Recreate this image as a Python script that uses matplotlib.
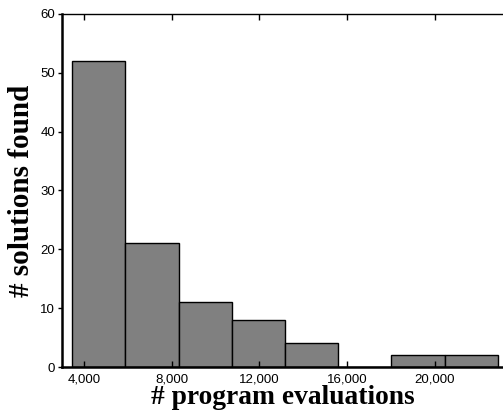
import numpy as np
import matplotlib
matplotlib.use("Agg")
import matplotlib.pyplot as plt
from matplotlib.ticker import FuncFormatter

# Histogram of program evaluations needed per solution
bin_start = 3470
bin_width = 2424
counts = [52, 21, 11, 8, 4, 0, 2, 2]

x_ticks = [4000, 8000, 12000, 16000, 20000]
y_ticks = [0, 10, 20, 30, 40, 50, 60]

fig = plt.figure(figsize=(5.03, 4.15), dpi=100)
ax = fig.add_axes([62 / 503, 48 / 415, 441 / 503, 353 / 415])

edges = bin_start + bin_width * np.arange(len(counts) + 1)
ax.bar(edges[:-1], counts, width=bin_width, align='edge',
       color='#808080', edgecolor='black', linewidth=1.0)

ax.set_xlim(3000, 23100)
ax.set_ylim(0, 60)
ax.set_xticks(x_ticks)
ax.set_yticks(y_ticks)
ax.xaxis.set_major_formatter(FuncFormatter(lambda v, p: f"{int(v):,}"))

ax.tick_params(axis='x', direction='in', length=4, width=1, top=True,
               labelsize=9.5, pad=5)
ax.tick_params(axis='y', direction='out', length=3, width=1,
               labelsize=9.5, pad=2)
for lab in ax.get_xticklabels() + ax.get_yticklabels():
    lab.set_family('Liberation Sans')

ax.spines['right'].set_visible(False)
ax.spines['left'].set_linewidth(1.8)
ax.spines['bottom'].set_linewidth(1.8)
ax.spines['top'].set_linewidth(1.0)

ax.set_xlabel('# program evaluations', family='Liberation Serif',
              fontweight='bold', fontsize=19.8, labelpad=-1)
ax.set_ylabel('# solutions found', family='Liberation Serif',
              fontweight='bold', fontsize=21, labelpad=4)

fig.savefig('out.png', dpi=100)
